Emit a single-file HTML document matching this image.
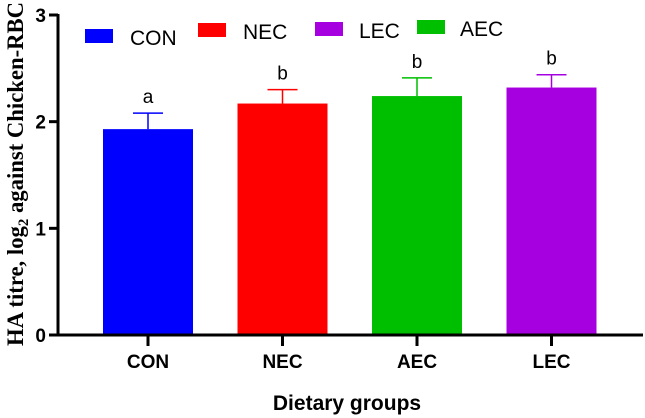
<!DOCTYPE html>
<html><head><meta charset="utf-8"><style>
html,body{margin:0;padding:0;background:#fff;}
svg{display:block;}
</style></head><body>
<svg id="chart" width="645" height="418" xmlns="http://www.w3.org/2000/svg" font-family="Liberation Sans, Arial, sans-serif"></svg>
<script>
const categories = ["CON", "NEC", "AEC", "LEC"];
const meanValues = [1.93, 2.17, 2.24, 2.32];
const errorTops = [2.08, 2.30, 2.41, 2.44];
const sigLetters = ["a", "b", "b", "b"];
const barColors = ["#0000ff", "#ff0000", "#00bf00", "#a700e0"];
const yTicks = [0, 1, 2, 3];
const legendItems = ["CON", "NEC", "LEC", "AEC"];
const legendColors = ["#0000ff", "#ff0000", "#a700e0", "#00bf00"];

const NS = "http://www.w3.org/2000/svg";
const svg = document.getElementById("chart");
const x0 = 58, x1 = 643, yBase = 335, yTop = 15;
const yMax = 3;
function yScale(v){ return yBase - (yBase - yTop) * v / yMax; }
const band = 134.5, firstCenter = 148, barW = 90;
function xCenter(i){ return firstCenter + i * band; }
function mk(tag, attrs){ const e = document.createElementNS(NS, tag); for (const k in attrs) e.setAttribute(k, attrs[k]); svg.appendChild(e); return e; }

categories.forEach((c, i) => {
  const cx = xCenter(i);
  const b = mk("rect", {x: cx - barW/2, y: yScale(meanValues[i]), width: barW, height: yBase - yScale(meanValues[i]), fill: barColors[i]});
  
  
  const e = mk("path", {d: `M${cx} ${yScale(meanValues[i])}V${yScale(errorTops[i])}M${cx-15} ${yScale(errorTops[i])}H${cx+15}`, stroke: barColors[i], "stroke-width": 1.5, fill: "none"});
  
  
  const t = mk("text", {x: cx, y: yScale(errorTops[i]) - 10, "text-anchor": "middle", "font-size": 19});
  t.textContent = sigLetters[i];
  
  
  const tk = mk("line", {x1: cx, x2: cx, y1: yBase, y2: yBase + 11, stroke: "#000", "stroke-width": 3});
  
  
  const lb = mk("text", {x: cx, y: 368, "text-anchor": "middle", "font-size": 19, "font-weight": "bold"});
  lb.textContent = c;
  
  
});

yTicks.forEach(v => {
  const y = yScale(v);
  const tk = mk("line", {x1: x0 - 9, x2: x0, y1: y, y2: y, stroke: "#000", "stroke-width": 3});
  
  
  const lb = mk("text", {x: x0 - 12, y: y + 7, "text-anchor": "end", "font-size": 19, "font-weight": "bold"});
  lb.textContent = v;
  
  
});

const ya = mk("line", {x1: x0, x2: x0, y1: yTop - 1, y2: yBase + 1.5, stroke: "#000", "stroke-width": 3});


const xa = mk("line", {x1: x0 - 1.5, x2: x1, y1: yBase, y2: yBase, stroke: "#000", "stroke-width": 3});



const legBoxX = [85, 198, 315, 417], legBoxY = [29, 23, 22, 20], legTextX = [130, 243, 359, 460];
legendItems.forEach((n, i) => {
  const r = mk("rect", {x: legBoxX[i], y: legBoxY[i], width: 28, height: 14, fill: legendColors[i]});
  
  
  const t = mk("text", {x: legTextX[i], y: legBoxY[i] + 16, "font-size": 21});
  t.textContent = n;
  
  
});

const xt = mk("text", {x: 347, y: 410, "text-anchor": "middle", "font-size": 21, "font-weight": "bold"});
xt.textContent = "Dietary groups";



const yt = mk("text", {transform: "translate(23,174) rotate(-90)", "text-anchor": "middle", "font-size": 23, "font-weight": "bold", "font-family": "Liberation Serif, serif", textLength: 344, lengthAdjust: "spacingAndGlyphs"});
yt.innerHTML = 'HA titre, log<tspan font-size="15" dy="5">2</tspan><tspan dy="-5"> against Chicken-RBC</tspan>';


</script>
</body></html>
